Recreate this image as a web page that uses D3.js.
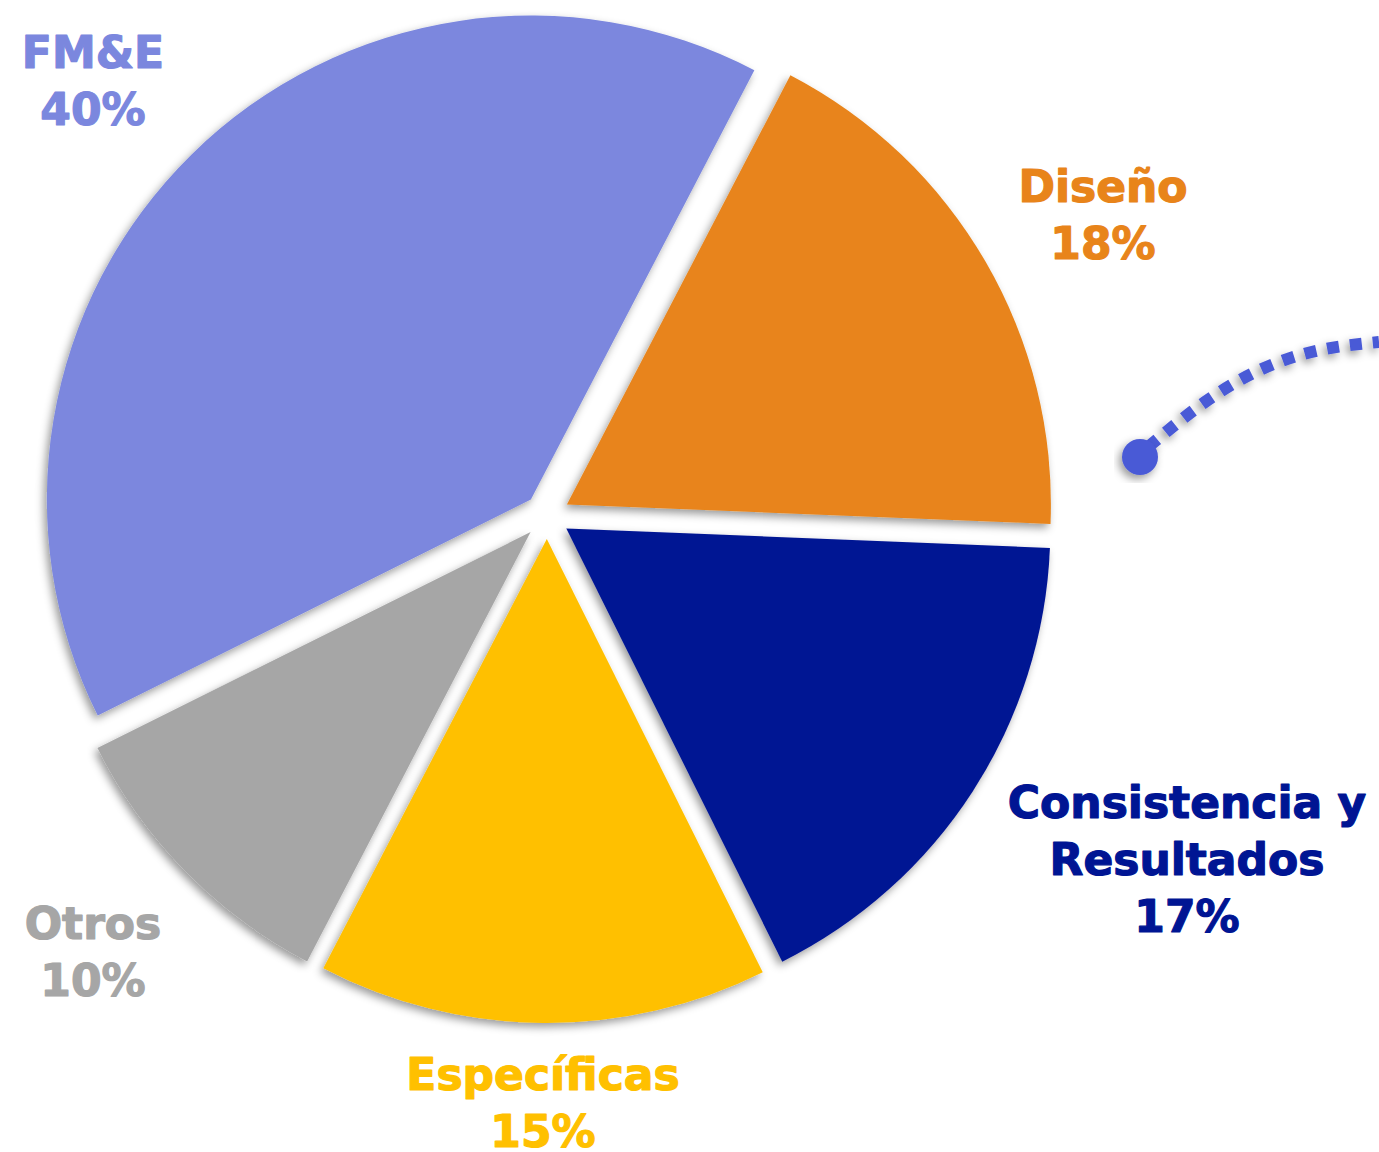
<!DOCTYPE html>
<meta charset="utf-8">
<style>
body {
  margin: 0;
  background: #fff;
}
.label {
  font-family: "DejaVu Sans", sans-serif;
  font-weight: bold;
  font-size: 44px;
  text-anchor: middle;
  stroke-width: 1.2px;
  stroke-linejoin: round;
}
</style>
<body>
<script src="https://d3js.org/d3.v7.min.js"></script>
<script>

// slice data, clockwise from the FM&E / Diseño split
var categories = ["Diseño", "Consistencia y Resultados", "Específicas", "Otros", "FM&E"];
var values = [18, 17, 15, 10, 40];
var pctLabels = ["18%", "17%", "15%", "10%", "40%"];
var nameLines = [["Diseño"], ["Consistencia y", "Resultados"], ["Específicas"], ["Otros"], ["FM&E"]];
var colors = ["#E8841A", "#001593", "#FFC000", "#A6A6A6", "#7B87DE"];

// decorative dotted swoosh on the right
var swoosh = [[1148, 447], [1205, 402], [1262, 369], [1320, 350], [1379, 342]];

var width = 1379, height = 1152;
var cx = 547, cy = 516, radius = 484, explode = 23;
var startAngle = 27.5 * Math.PI / 180;

// where each label block sits (centre x, first baseline y)
var labelPos = [[1103, 202], [1187, 818], [543, 1090], [93, 939], [93, 68]];
var lineGap = 57;

var svg = d3.select("body").append("svg")
    .attr("width", width)
    .attr("height", height);

var defs = svg.append("defs");
defs.append("filter")
    .attr("id", "shadow")
    .attr("x", "-20%").attr("y", "-20%")
    .attr("width", "140%").attr("height", "140%")
  .append("feDropShadow")
    .attr("dx", -3)
    .attr("dy", 4)
    .attr("stdDeviation", 4)
    .attr("flood-color", "#000")
    .attr("flood-opacity", 0.4);

var pie = d3.pie()
    .sort(null)
    .value(function(d) { return d; })
    .startAngle(startAngle)
    .endAngle(startAngle + 2 * Math.PI);

var arc = d3.arc()
    .innerRadius(0)
    .outerRadius(radius);

var g = svg.append("g")
    .attr("transform", "translate(" + cx + "," + cy + ")");

g.selectAll(".slice")
    .data(pie(values))
  .enter().append("path")
    .attr("class", "slice")
    .attr("filter", "url(#shadow)")
    .attr("fill", function(d, i) { return colors[i]; })
    .attr("transform", function(d) {
      var mid = (d.startAngle + d.endAngle) / 2;
      return "translate(" + (Math.sin(mid) * explode) + "," + (-Math.cos(mid) * explode) + ")";
    })
    .attr("d", arc);

// labels
categories.forEach(function(c, i) {
  var lines = nameLines[i].concat([pctLabels[i]]);
  var t = svg.append("text")
      .attr("class", "label")
      .attr("fill", colors[i])
      .attr("stroke", colors[i]);
  lines.forEach(function(l, j) {
    t.append("tspan")
      .attr("x", labelPos[i][0])
      .attr("y", labelPos[i][1] + j * lineGap)
      .text(l);
  });
});

// dotted swoosh + dot
var line = d3.line().curve(d3.curveNatural);

svg.append("path")
    .attr("d", line(swoosh))
    .attr("fill", "none")
    .attr("stroke", "#4A5AD6")
    .attr("stroke-width", 12)
    .attr("stroke-dasharray", "12 11")
    .attr("filter", "url(#shadow)");

svg.append("circle")
    .attr("cx", 1140)
    .attr("cy", 457)
    .attr("r", 18)
    .attr("fill", "#4A5AD6")
    .attr("filter", "url(#shadow)");

</script>
